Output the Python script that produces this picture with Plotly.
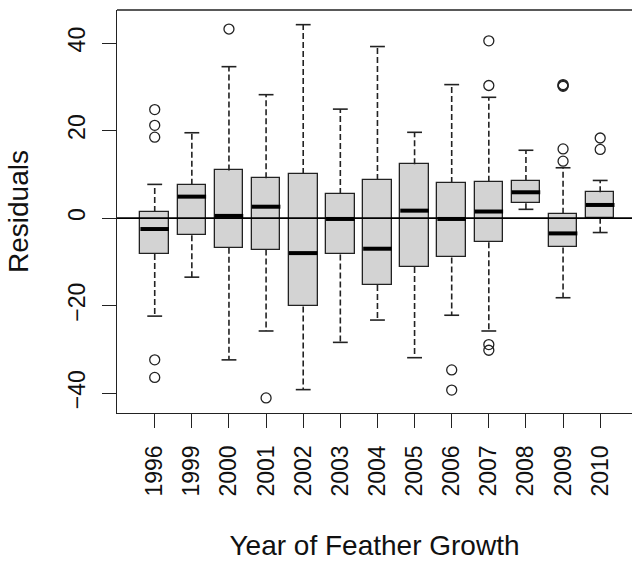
import plotly.graph_objects as go

years = ["1996", "1999", "2000", "2001", "2002", "2003", "2004",
         "2005", "2006", "2007", "2008", "2009", "2010"]
lower_whisker = [-22.4, -13.5, -32.4, -25.8, -39.2, -28.4, -23.3, -31.9, -22.2, -25.8, 2.0, -18.2, -3.3]
q1 = [-8.2, -3.9, -6.8, -7.2, -20.2, -8.3, -15.3, -11.2, -9.0, -5.5, 3.4, -6.7, 0.1]
median = [-2.5, 4.9, 0.5, 2.6, -8.0, -0.2, -7.0, 1.7, -0.2, 1.5, 5.9, -3.5, 3.0]
q3 = [1.4, 7.6, 10.9, 9.1, 10.1, 5.5, 8.7, 12.3, 8.0, 8.3, 8.5, 1.0, 5.9]
upper_whisker = [7.7, 19.5, 34.6, 28.2, 44.2, 24.9, 39.2, 19.6, 30.5, 27.6, 15.5, 11.5, 8.6]
outliers = {
    "1996": [24.8, 21.2, 18.5, -32.4, -36.4],
    "2000": [43.2],
    "2001": [-41.1],
    "2006": [-34.7, -39.3],
    "2007": [40.5, 30.3, -28.9, -30.2],
    "2009": [30.1, 30.3, 30.5, 15.8, 13.0],
    "2010": [18.3, 15.7],
}

pos = list(range(1, len(years) + 1))
box_w = 0.77
cap_w = 0.4
FONT = "Liberation Sans, Arial, sans-serif"

fig = go.Figure()

# whiskers (dashed)
wx, wy = [], []
for p, lo, a, b, hi in zip(pos, lower_whisker, q1, q3, upper_whisker):
    wx += [p, p, None, p, p, None]
    wy += [b, hi, None, a, lo, None]
fig.add_trace(go.Scatter(x=wx, y=wy, mode="lines",
                         line=dict(color="#222222", width=1.6, dash="6px,3px"),
                         hoverinfo="skip", showlegend=False))

# caps
cx, cy = [], []
for p, lo, hi in zip(pos, lower_whisker, upper_whisker):
    cx += [p - cap_w / 2, p + cap_w / 2, None, p - cap_w / 2, p + cap_w / 2, None]
    cy += [hi, hi, None, lo, lo, None]
fig.add_trace(go.Scatter(x=cx, y=cy, mode="lines",
                         line=dict(color="#222222", width=1.6),
                         hoverinfo="skip", showlegend=False))

# boxes
fig.add_trace(go.Bar(x=pos, y=[b - a for a, b in zip(q1, q3)], base=q1,
                     width=box_w,
                     marker=dict(color="#D3D3D3", line=dict(color="#222222", width=1.3)),
                     hoverinfo="skip", showlegend=False))

# medians
mx, my = [], []
for p, m in zip(pos, median):
    mx += [p - box_w / 2, p + box_w / 2, None]
    my += [m, m, None]
fig.add_trace(go.Scatter(x=mx, y=my, mode="lines",
                         line=dict(color="black", width=4),
                         hoverinfo="skip", showlegend=False))

# outliers
ox, oy = [], []
for yr, vals in outliers.items():
    p = pos[years.index(yr)]
    for v in vals:
        ox.append(p)
        oy.append(v)
fig.add_trace(go.Scatter(x=ox, y=oy, mode="markers",
                         marker=dict(symbol="circle-open", size=10,
                                     color="#222222", line=dict(width=1.3)),
                         hoverinfo="skip", showlegend=False))

fig.add_hline(y=0, line=dict(color="black", width=1.6))
# top border of plot region
fig.add_shape(type="line", xref="paper", yref="paper", x0=0, x1=1, y0=1, y1=1,
              line=dict(color="#222222", width=1.3))

fig.update_layout(
    width=632, height=561,
    margin=dict(l=117, r=0, t=10, b=148),
    paper_bgcolor="white", plot_bgcolor="white",
    font=dict(family=FONT, size=23, color="#111111"),
    bargap=0,
    xaxis=dict(range=[-0.016, 13.857], tickvals=pos, ticktext=years,
               tickangle=-90, ticks="outside", ticklen=14, tickwidth=1.3,
               tickcolor="#222222", showline=True, linewidth=1.3, linecolor="#222222",
               showgrid=False, zeroline=False, ticklabelstandoff=8,
               title=dict(text="Year of Feather Growth", standoff=39)),
    yaxis=dict(range=[-44.54, 47.55], tickvals=[-40, -20, 0, 20, 40],
               tickangle=-90, ticks="outside", ticklen=14, tickwidth=1.3,
               tickcolor="#222222", showline=True, linewidth=1.3, linecolor="#222222",
               showgrid=False, zeroline=False, ticklabelstandoff=8,
               title=dict(text="Residuals", standoff=26)),
)

fig.write_html("out.html", config={"displayModeBar": False},
               post_script="document.body.style.margin='0';document.body.style.overflow='hidden';")
